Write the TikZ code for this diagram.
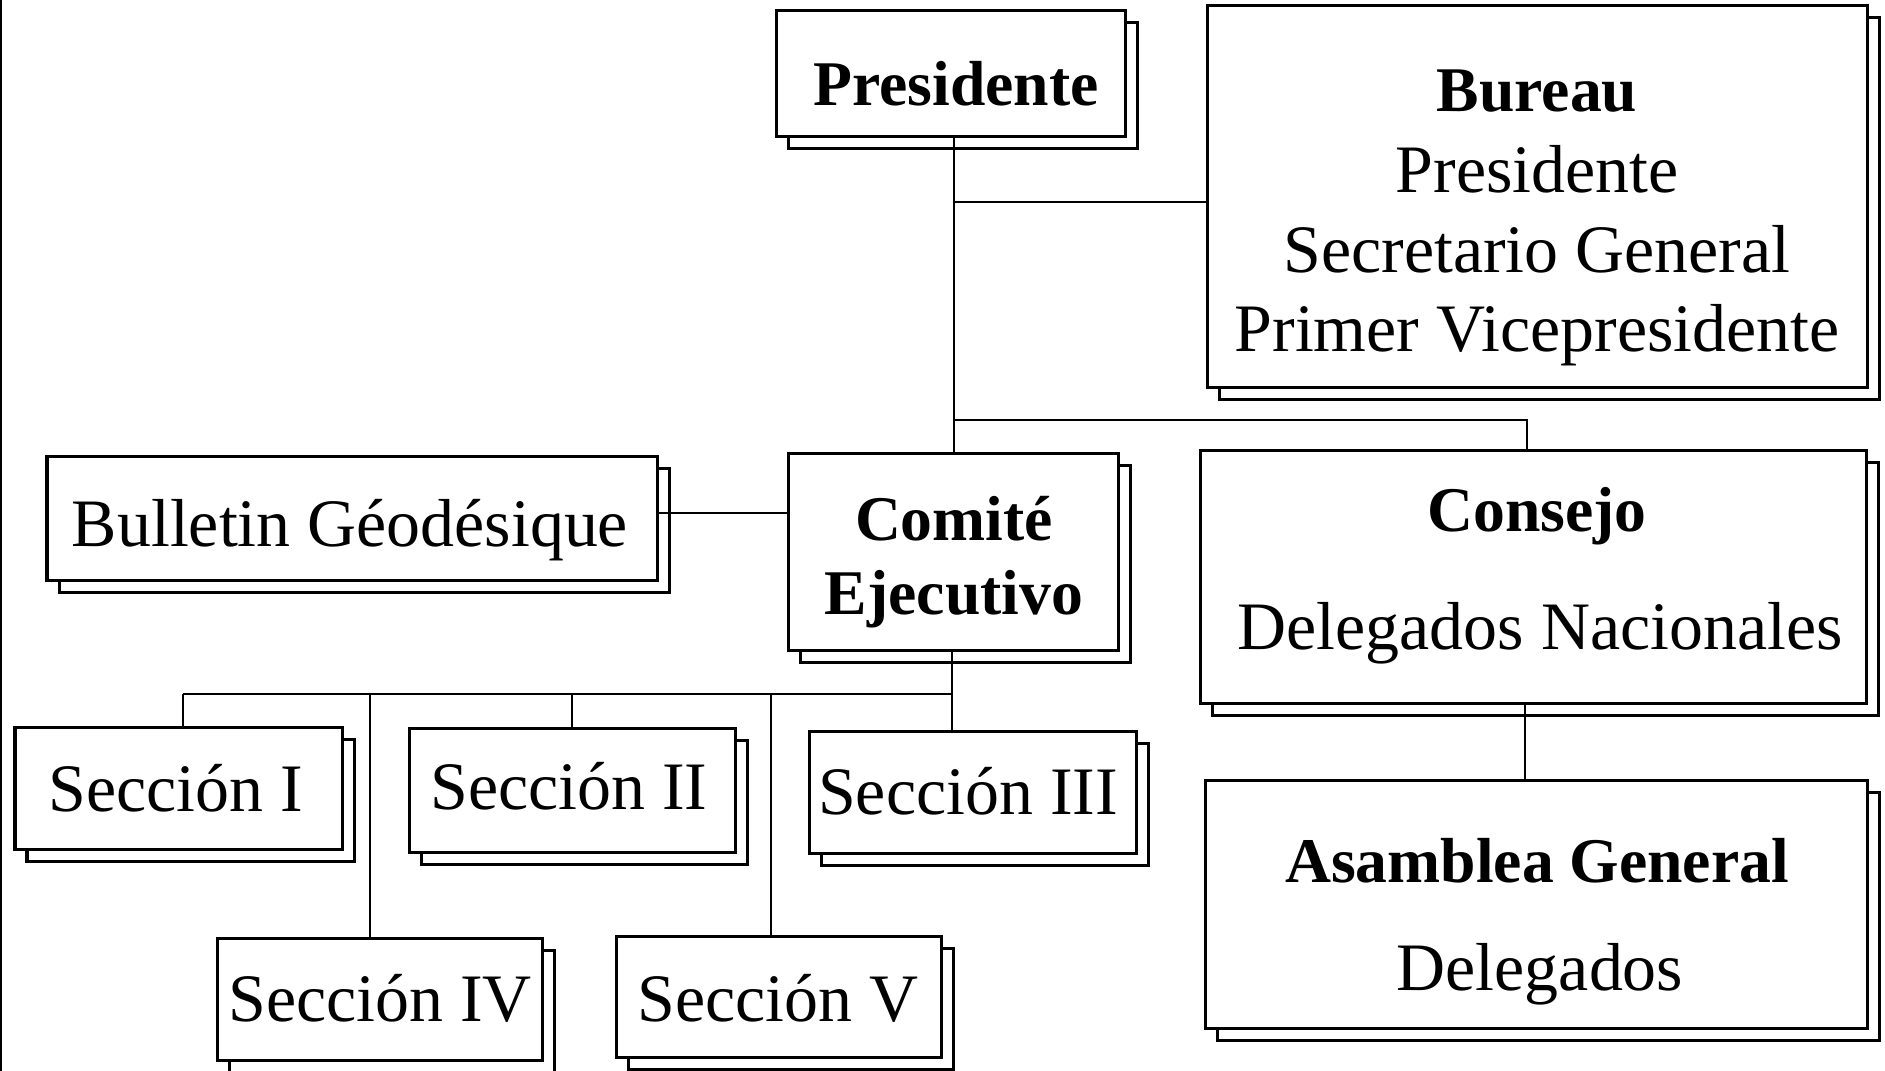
\documentclass[tikz,border=0pt]{standalone}
\usepackage{fontspec}
\setmainfont{Liberation Serif}
\begin{document}
\begin{tikzpicture}[x=0.01cm,y=0.01cm,
  boxline/.style={draw=black,line width=0.03cm},
  orgnode/.style={boxline,fill=white,rectangle,inner sep=0pt,outer sep=0pt},
  conn/.style={draw=black,line width=0.02cm},
  reg/.style={anchor=base,inner sep=0pt,font=\fontsize{19.3pt}{19.3pt}\selectfont},
  bld/.style={anchor=base,inner sep=0pt,font=\fontsize{18.1pt}{18.1pt}\selectfont\bfseries}]
\useasboundingbox (0,0) rectangle (1885,-1071);
\newcommand\orgbox[5]{%
  \draw[boxline,fill=white] ({#2+12},{-(#3)-12}) rectangle ({#4+12},{-(#5)-12});
  \node[orgnode,minimum width={(#4-#2)*0.01cm},minimum height={(#5-#3)*0.01cm}] (#1) at ({(#2+#4)/2},{-(#3+#5)/2}) {};
}
% page edge
\draw[line width=0.02cm] (1,0) -- (1,-1071);
% boxes
\orgbox{pres}{776}{11}{1125}{137}
\orgbox{bureau}{1207}{6}{1867}{388}
\orgbox{comite}{788}{454}{1118}{651}
\orgbox{bulletin}{47}{457}{657}{581}
\orgbox{consejo}{1200}{451}{1866}{704}
\orgbox{asamblea}{1205}{781}{1867}{1029}
\orgbox{s1}{15}{728}{342}{850}
\orgbox{s2}{409}{729}{735}{853}
\orgbox{s3}{809}{732}{1136}{854}
\orgbox{s4}{217}{939}{542}{1061}
\orgbox{s5}{616}{937}{941}{1058}
% texts
\node[bld] (presT) at (956,-106) {Presidente};
\node[bld] (bureauT) at (1537,-112) {Bureau};
\node[reg] (bureauA) at (1537,-193) {Presidente};
\node[reg] (bureauB) at (1537,-273) {Secretario General};
\node[reg] (bureauC) at (1537,-352) {Primer Vicepresidente};
\node[bld] (comiteA) at (954,-541) {Comité};
\node[bld] (comiteB) at (954,-615) {Ejecutivo};
\node[reg] (bulletinT) at (350,-547) {Bulletin Géodésique};
\node[bld] (consejoA) at (1537,-532) {Consejo};
\node[reg] (consejoB) at (1540,-650) {Delegados Nacionales};
\node[bld] (asambleaA) at (1537,-883) {Asamblea General};
\node[reg] (asambleaB) at (1540,-991) {Delegados};
\node[reg] (s1T) at (176,-812) {Sección I};
\node[reg] (s2T) at (569,-810) {Sección II};
\node[reg] (s3T) at (968,-815) {Sección III};
\node[reg] (s4T) at (380,-1022) {Sección IV};
\node[reg] (s5T) at (778,-1022) {Sección V};
% connectors
\coordinate (jb) at (954,-202);
\coordinate (jc) at (954,-420);
\coordinate (jcR) at (1527,-420);
\coordinate (bus) at (952,-694);
\coordinate (busL) at (183,-694);
\draw[conn] (pres.south -| jb) -- (comite.north -| jb);
\draw[conn] (jb) -- (jb -| bureau.west);
\draw[conn] (jc) -- (jcR) -- (jcR |- consejo.north);
\draw[conn] (1525,-704) coordinate (cb) -- (cb |- asamblea.north);
\draw[conn] (bulletin.east |- 0,-513) -- (comite.west |- 0,-513);
\draw[conn] (comite.south -| bus) -- (bus |- s3.north);
\draw[conn] (busL) -- (bus);
\draw[conn] (busL) -- (busL |- s1.north);
\draw[conn] (370,-694) coordinate (b4) -- (b4 |- s4.north);
\draw[conn] (572,-694) coordinate (b2) -- (b2 |- s2.north);
\draw[conn] (771,-694) coordinate (b5) -- (b5 |- s5.north);
\end{tikzpicture}
\end{document}
